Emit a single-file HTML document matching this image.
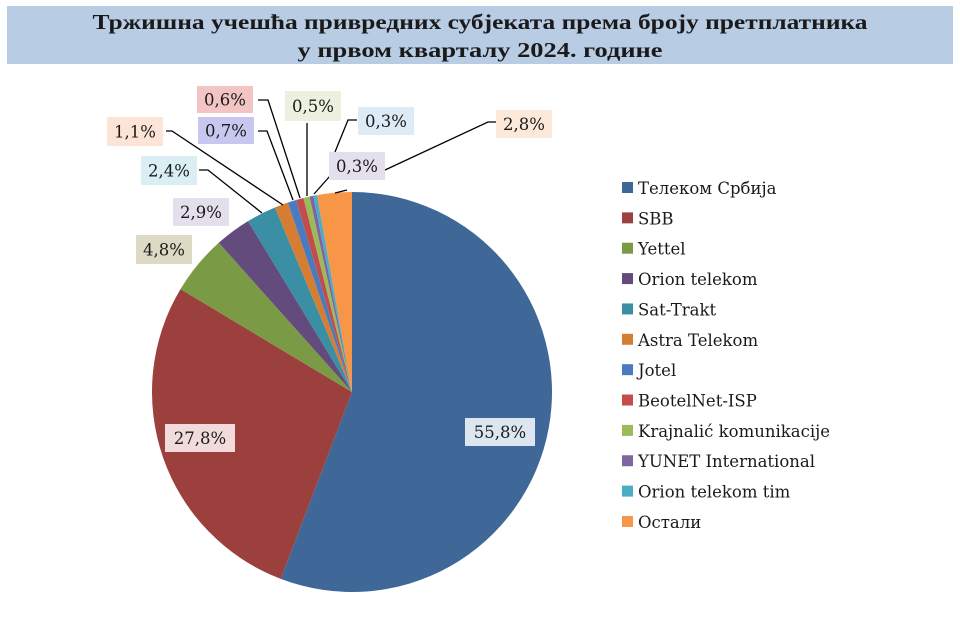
<!DOCTYPE html>
<html><head><meta charset="utf-8"><style>
html,body{margin:0;padding:0;background:#fff;width:960px;height:621px;overflow:hidden}
svg{display:block}
text{font-family:"DejaVu Serif","Liberation Serif",serif;fill:#1a1a1a}
</style></head><body>
<svg id="s" width="960" height="621" viewBox="0 0 960 621" xmlns="http://www.w3.org/2000/svg">
<rect x="7" y="6" width="946" height="58" fill="#B8CCE4"/>
<text x="480" y="29" text-anchor="middle" font-size="21" font-weight="bold" style="font-family:'Liberation Serif',serif" textLength="775" lengthAdjust="spacingAndGlyphs">Тржишна учешћа привредних субјеката према броју претплатника</text>
<text x="480" y="57" text-anchor="middle" font-size="21" font-weight="bold" style="font-family:'Liberation Serif',serif" textLength="365" lengthAdjust="spacingAndGlyphs">у првом кварталу 2024. године</text>
<g id="pie"></g>
<g fill="none" stroke="#000" stroke-width="1.3">
<polyline points="258,100 268,100 300,198"/>
<polyline points="258,131 267,131 293,200"/>
<polyline points="166,131 172,131 283,205"/>
<polyline points="199,170 208,170 262,213"/>
<polyline points="307,123 307,196"/>
<polyline points="357,120 348,120 335,152"/>
<polyline points="330,176 314,194"/>
<polyline points="497,122 488,122 385,170"/>
<polyline points="347,190 335,193"/>
</g>
<g id="labels" font-size="16.5"></g>
<g id="legend" font-size="16.5"></g>
</svg>
<script>
var cx=352,cy=392,r=200;
var d=[["Телеком Србија",55.8,"#3F6899"],["SBB",27.8,"#9B403D"],["Yettel",4.8,"#7B9A45"],["Orion telekom",2.9,"#634B7E"],["Sat-Trakt",2.4,"#3A8FA4"],["Astra Telekom",1.1,"#D57E33"],["Jotel",0.7,"#4A7BBF"],["BeotelNet-ISP",0.6,"#C24D4A"],["Krajnalić komunikacije",0.5,"#9BBB59"],["YUNET International",0.3,"#8064A2"],["Orion telekom tim",0.3,"#4BACC6"],["Остали",2.8,"#F79646"]];
var ns="http://www.w3.org/2000/svg",a=0,pie=document.getElementById("pie");
d.forEach(function(s){var a2=a+s[1]/100*2*Math.PI;
var x1=cx+r*Math.sin(a),y1=cy-r*Math.cos(a),x2=cx+r*Math.sin(a2),y2=cy-r*Math.cos(a2);
var p=document.createElementNS(ns,"path");
p.setAttribute("d","M"+cx+","+cy+"L"+x1+","+y1+"A"+r+","+r+" 0 "+((a2-a)>Math.PI?1:0)+" 1 "+x2+","+y2+"Z");
p.setAttribute("fill",s[2]);pie.appendChild(p);a=a2;});
var L=[["0,6%",197,86,56,27,"#F2C4C4"],["0,7%",198,117,56,27,"#C7C7F0"],["1,1%",107,117,56,29,"#FCE4D6"],["0,5%",285,91,56,30,"#EBF1DE"],["0,3%",358,107,56,28,"#DDEBF7"],["0,3%",329,152,56,28,"#E4DFEC"],["2,8%",496,110,56,28,"#FDE9D9"],["2,4%",141,156,56,29,"#DAEEF3"],["2,9%",173,198,56,28,"#E4DFEC"],["4,8%",136,235,56,29,"#DDD9C4"],["27,8%",165,424,70,28,"#F2DCDB"],["55,8%",465,418,70,28,"#DCE6F1"]];
var lg=document.getElementById("labels");
L.forEach(function(l){var rc=document.createElementNS(ns,"rect");
rc.setAttribute("x",l[1]);rc.setAttribute("y",l[2]);rc.setAttribute("width",l[3]);rc.setAttribute("height",l[4]);rc.setAttribute("fill",l[5]);lg.appendChild(rc);
var t=document.createElementNS(ns,"text");t.setAttribute("x",l[1]+l[3]/2);t.setAttribute("y",l[2]+l[4]/2+6);t.setAttribute("text-anchor","middle");t.textContent=l[0];lg.appendChild(t);});
var le=document.getElementById("legend");
d.forEach(function(s,i){var y=188+i*30.36;
var rc=document.createElementNS(ns,"rect");rc.setAttribute("x",622);rc.setAttribute("y",y-6);rc.setAttribute("width",11);rc.setAttribute("height",11);rc.setAttribute("fill",s[2]);le.appendChild(rc);
var t=document.createElementNS(ns,"text");t.setAttribute("x",638);t.setAttribute("y",y+6);t.textContent=s[0];le.appendChild(t);});
</script>
</body></html>
